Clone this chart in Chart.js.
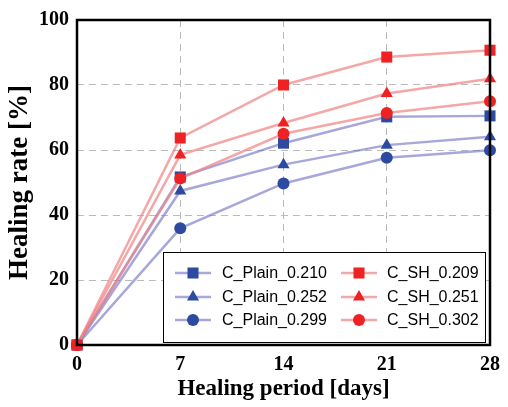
<!DOCTYPE html>
<html><head><meta charset="utf-8">
<script src="https://cdn.jsdelivr.net/npm/chart.js@4/dist/chart.umd.min.js"></script>
<style>html,body{margin:0;padding:0;background:#fff}#wrap{width:508px;height:407px}</style>
</head><body><div id="wrap"><canvas id="c" width="508" height="407"></canvas></div>
<script>
const days = [0, 7, 14, 21, 28];
const seriesNames = ["C_Plain_0.210","C_Plain_0.252","C_Plain_0.299","C_SH_0.209","C_SH_0.251","C_SH_0.302"];
const plain210 = [0, 51.7, 62.1, 70.2, 70.5];
const plain252 = [0, 47.4, 55.5, 61.5, 64.1];
const plain299 = [0, 35.9, 49.7, 57.6, 59.9];
const sh209 = [0, 63.7, 80.0, 88.6, 90.7];
const sh251 = [0, 58.5, 68.3, 77.4, 81.9];
const sh302 = [0, 51.2, 65.0, 71.4, 75.0];
const xTicks = [0, 7, 14, 21, 28];
const yTicks = [0, 20, 40, 60, 80, 100];

const BLUE = '#2b4aa0', BLUE_LINE = 'rgba(120,120,200,0.65)';
const RED = '#ee2222', RED_LINE = 'rgba(240,130,130,0.7)';
const styles = [
  {c:BLUE,l:BLUE_LINE,s:'rect',r:7.8,o:2},
  {c:BLUE,l:BLUE_LINE,s:'triangle',r:7,o:2},
  {c:BLUE,l:BLUE_LINE,s:'circle',r:6,o:2},
  {c:RED,l:RED_LINE,s:'rect',r:7.8,o:0},
  {c:RED,l:RED_LINE,s:'triangle',r:7,o:1},
  {c:RED,l:RED_LINE,s:'circle',r:6,o:1}
];
const vals = [plain210, plain252, plain299, sh209, sh251, sh302];
const datasets = vals.map((v,i)=>({
  label: seriesNames[i],
  data: v.map((y,j)=>({x:days[j], y})),
  order: styles[i].o,
  borderColor: styles[i].l,
  backgroundColor: styles[i].c,
  pointBackgroundColor: styles[i].c,
  pointBorderColor: styles[i].c,
  pointBorderWidth: 0,
  pointStyle: styles[i].s,
  pointRadius: styles[i].r,
  borderWidth: 2.5,
  tension: 0,
  clip: false
}));
const SERIF = '"Liberation Serif","Times New Roman",serif';

const framePlugin = {
  id: 'frame',
  afterDatasetsDraw(chart) {
    const {ctx, chartArea:a} = chart;
    ctx.save();
    ctx.strokeStyle = '#000'; ctx.lineWidth = 2.5;
    ctx.strokeRect(a.left, a.top, a.right - a.left, a.bottom - a.top);
    // legend box
    const bx = 163, by = 252, bw = 322, bh = 90;
    ctx.fillStyle = '#fff';
    ctx.fillRect(bx, by, bw, bh);
    ctx.lineWidth = 1; ctx.strokeStyle = '#000';
    ctx.strokeRect(bx + 0.5, by + 0.5, bw, bh);
    ctx.font = '16px "Liberation Sans", Arial, sans-serif';
    ctx.textBaseline = 'middle';
    const cols = [{mx:193, tx:222}, {mx:359, tx:387}];
    const rowsY = [273, 297, 320];
    chart.data.datasets.forEach((ds, i) => {
      const col = cols[Math.floor(i / 3)], y = rowsY[i % 3];
      ctx.strokeStyle = ds.borderColor; ctx.lineWidth = 2.5;
      ctx.beginPath(); ctx.moveTo(col.mx - 18, y); ctx.lineTo(col.mx + 18, y); ctx.stroke();
      ctx.fillStyle = ds.pointBackgroundColor;
      Chart.helpers.drawPoint(ctx, {pointStyle: ds.pointStyle, radius: ds.pointRadius, borderWidth: 0}, col.mx, y);
      ctx.fillStyle = '#000';
      ctx.fillText(ds.label, col.tx, y + 1);
    });
    ctx.restore();
  }
};

new Chart(document.getElementById('c'), {
  type: 'line',
  data: { datasets },
  options: {
    responsive: false, animation: false,
    layout: { padding: { top: 17, right: 16, left: 0, bottom: 0 } },
    plugins: { legend: { display: false }, tooltip: { enabled: false } },
    scales: {
      x: {
        type: 'linear', min: 0, max: 28,
        afterBuildTicks(s) { s.ticks = xTicks.map(v => ({value: v})); },
        afterFit(s) { s.height = 62; },
        grid: { color: c => (c.tick.value === 0 || c.tick.value === 28) ? 'rgba(0,0,0,0)' : '#bbbbbb', lineWidth: 1, drawTicks: false },
        border: { display: false, dash: [7, 5] },
        ticks: { color: '#000', padding: 8, font: { family: SERIF, size: 20, weight: 'bold' } },
        title: { display: true, text: 'Healing period [days]', color: '#000', padding: {top: 3}, font: { family: SERIF, size: 23, weight: 'bold' } }
      },
      y: {
        min: 0, max: 100,
        afterBuildTicks(s) { s.ticks = yTicks.map(v => ({value: v})); },
        afterFit(s) { s.width = 77; },
        grid: { color: c => (c.tick.value === 0 || c.tick.value === 100) ? 'rgba(0,0,0,0)' : '#bbbbbb', lineWidth: 1, drawTicks: false },
        border: { display: false, dash: [7, 5] },
        ticks: { color: '#000', padding: 8, font: { family: SERIF, size: 20, weight: 'bold' } },
        title: { display: true, text: 'Healing rate [%]', color: '#000', padding: {bottom: 2}, font: { family: SERIF, size: 27, weight: 'bold' } }
      }
    }
  },
  plugins: [framePlugin]
});
</script></body></html>
